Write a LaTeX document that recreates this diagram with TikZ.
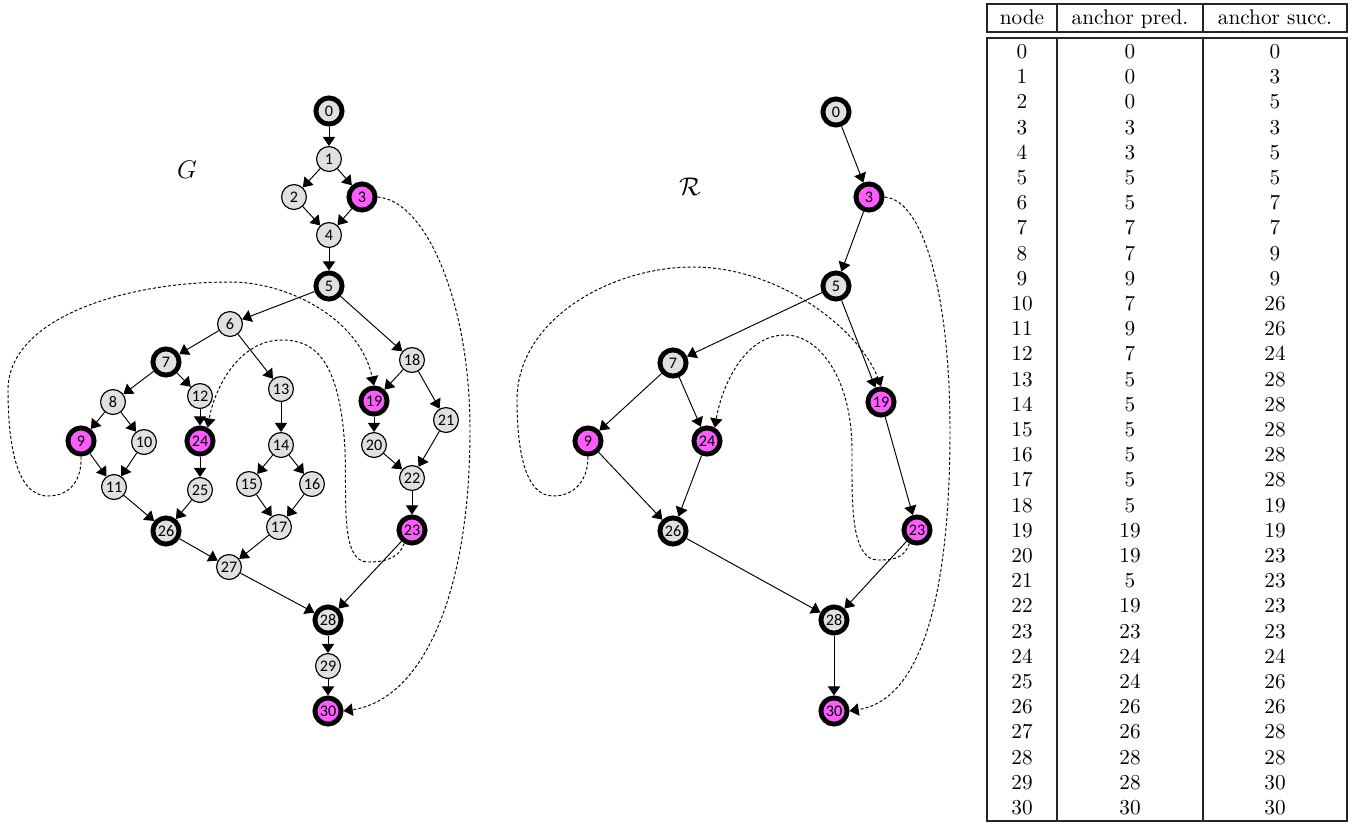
\documentclass[tikz,border=0pt]{standalone}
\usepackage{fontspec}
\newfontfamily\nodefont{Carlito}
\usetikzlibrary{arrows.meta}
\definecolor{gfill}{HTML}{E0E0E0}
\definecolor{mag}{HTML}{FF5CFF}
\begin{document}
\begin{tikzpicture}[x=0.47pt,y=-0.47pt,
  gn/.style={circle, draw=black, line width=0.55pt, fill=gfill, minimum size=11.7pt, inner sep=0pt, font=\nodefont\fontsize{7.6}{8}\selectfont},
  tg/.style={gn, line width=2.3pt, minimum size=12.3pt},
  tm/.style={tg, fill=mag},
  ed/.style={-{Triangle[length=4.3pt,width=5.8pt]}, line width=0.45pt},
  da/.style={ed, dash pattern=on 1.4pt off 1pt},
  tline/.style={line width=0.5pt, draw=black!85},
  tcell/.style={inner sep=0pt, anchor=base, font=\fontsize{10}{12}\selectfont}]
\useasboundingbox (0,0) rectangle (1358,823);
% ---------- graph G ----------
\node[tg] (g0) at (329,111) {0};
\node[gn] (g1) at (329,159) {1};
\node[gn] (g2) at (294,197) {2};
\node[tm] (g3) at (362,197) {3};
\node[gn] (g4) at (329,235) {4};
\node[tg] (g5) at (329,286) {5};
\node[gn] (g6) at (230,324) {6};
\node[tg] (g7) at (166,362) {7};
\node[gn] (g8) at (113,402) {8};
\node[tm] (g9) at (81,441) {9};
\node[gn] (g10) at (144,442) {10};
\node[gn] (g11) at (114,487) {11};
\node[gn] (g12) at (200,396) {12};
\node[tm] (g24) at (200,441) {24};
\node[gn] (g25) at (200,490) {25};
\node[tg] (g26) at (166,531) {26};
\node[gn] (g13) at (281,389) {13};
\node[gn] (g14) at (281,445) {14};
\node[gn] (g15) at (249,484) {15};
\node[gn] (g16) at (312,484) {16};
\node[gn] (g17) at (279,527) {17};
\node[gn] (g27) at (229,567) {27};
\node[gn] (g18) at (412,360) {18};
\node[tm] (g19) at (374,401) {19};
\node[gn] (g20) at (374,445) {20};
\node[gn] (g21) at (446,420) {21};
\node[gn] (g22) at (412,478) {22};
\node[tm] (g23) at (412,530) {23};
\node[tg] (g28) at (328,620) {28};
\node[gn] (g29) at (328,666) {29};
\node[tm] (g30) at (328,711) {30};
\node[font=\large] (lG) at (187,170) {$G$};
\foreach \a/\b in {0/1,1/2,1/3,2/4,3/4,4/5,5/6,5/18,6/7,6/13,7/8,7/12,8/9,8/10,9/11,10/11,11/26,12/24,24/25,25/26,13/14,14/15,14/16,15/17,16/17,17/27,26/27,27/28,18/19,18/21,19/20,20/22,21/22,22/23,23/28,28/29,29/30}
  \draw[ed] (g\a) -- (g\b);
\draw[da] (g9.south) .. controls (82,480) and (70,496) .. (48,496)
  .. controls (15,496) and (8,440) .. (8,390)
  .. controls (8,320) and (120,282) .. (230,282)
  .. controls (290,282) and (360,320) .. (g19.north);
\draw[da] (g23.-120) .. controls (398,560) and (382,562) .. (368,562)
  .. controls (340,562) and (347,500) .. (345,450)
  .. controls (340,360) and (315,340) .. (282,340)
  .. controls (238,340) and (214,390) .. (g24.60);
\draw[da] (g3.east) .. controls (425,200) and (470,300) .. (470,430)
  .. controls (470,600) and (420,700) .. (g30.east);
% ---------- graph R ----------
\node[tg] (r0) at (836,112) {0};
\node[tm] (r3) at (869,197) {3};
\node[tg] (r5) at (836,286) {5};
\node[tg] (r7) at (673,363) {7};
\node[tm] (r9) at (588,441) {9};
\node[tm] (r24) at (707,441) {24};
\node[tm] (r19) at (881,402) {19};
\node[tg] (r26) at (673,531) {26};
\node[tm] (r23) at (917,530) {23};
\node[tg] (r28) at (834,620) {28};
\node[tm] (r30) at (834,711) {30};
\node[font=\large] (lR) at (690,187) {$\mathcal{R}$};
\foreach \a/\b in {0/3,3/5,5/7,5/19,7/9,7/24,9/26,24/26,26/28,19/23,23/28,28/30}
  \draw[ed] (r\a) -- (r\b);
\draw[da] (r9.south) .. controls (588,480) and (575,496) .. (553,496)
  .. controls (525,496) and (517,450) .. (517,400)
  .. controls (517,320) and (610,267) .. (693,267)
  .. controls (780,267) and (860,330) .. (r19.north);
\draw[da] (r23.-120) .. controls (904,560) and (890,560) .. (878,560)
  .. controls (850,560) and (852,500) .. (852,450)
  .. controls (852,380) and (820,335) .. (785,335)
  .. controls (745,335) and (722,385) .. (r24.60);
\draw[da] (r3.east) .. controls (925,200) and (950,300) .. (950,430)
  .. controls (950,600) and (920,700) .. (r30.east);
% ---------- table ----------
\draw[tline] (987,4) rectangle (1347,32);
\draw[tline] (1057,4) -- (1057,32);
\draw[tline] (1203,4) -- (1203,32);
\draw[tline] (987,38) rectangle (1347,821);
\draw[tline] (1057,38) -- (1057,821);
\draw[tline] (1203,38) -- (1203,821);
\node[tcell] (h1) at (1022,24.5) {node};
\node[tcell] (h2) at (1130,24.5) {anchor pred.};
\node[tcell] (h3) at (1275,24.5) {anchor succ.};
\foreach \a/\b/\c [count=\i from 0] in {0/0/0,1/0/3,2/0/5,3/3/3,4/3/5,5/5/5,6/5/7,7/7/7,8/7/9,9/9/9,10/7/26,11/9/26,12/7/24,13/5/28,14/5/28,15/5/28,16/5/28,17/5/28,18/5/19,19/19/19,20/19/23,21/5/23,22/19/23,23/23/23,24/24/24,25/24/26,26/26/26,27/26/28,28/28/28,29/28/30,30/30/30} {
  \node[tcell] (ta\i) at (1022,58.5+25.2*\i) {\a};
  \node[tcell] (tb\i) at (1130,58.5+25.2*\i) {\b};
  \node[tcell] (tc\i) at (1275,58.5+25.2*\i) {\c};
}
\end{tikzpicture}
\end{document}
